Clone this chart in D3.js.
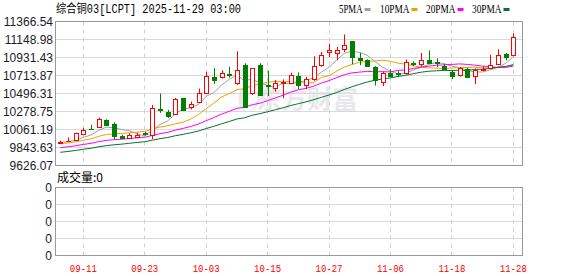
<!DOCTYPE html>
<html><head><meta charset="utf-8">
<script src="https://cdn.jsdelivr.net/npm/d3@7/dist/d3.min.js"></script>
<style>body{margin:0;background:#fff}svg{display:block}</style>
</head><body><svg id="c" width="578" height="276"></svg>
<script>
const dates=["09-08","09-09","09-10","09-11","09-12","09-15","09-16","09-17","09-18","09-19","09-22","09-23","09-24","09-25","09-26","09-29","09-30","10-01","10-02","10-03","10-06","10-07","10-08","10-09","10-10","10-13","10-14","10-15","10-16","10-17","10-20","10-21","10-22","10-23","10-24","10-27","10-28","10-29","10-30","10-31","11-03","11-04","11-05","11-06","11-07","11-10","11-11","11-12","11-13","11-14","11-17","11-18","11-19","11-20","11-21","11-24","11-25","11-26","11-27","11-28"];
const open=[9896,9920,9930,10007,10070,10091,10178,10127,9986,9959,
9974,10016,9992,10307,10274,10247,10436,10328,10398,10506,
10694,10698,10736,10622,10844,10499,10844,10604,10559,10626,
10626,10706,10598,10667,10838,10998,10986,11039,11126,10931,
10907,10820,10640,10746,10746,10739,10862,10847,10907,10880,
10832,10758,10715,10794,10712,10784,10799,10856,10974,10958];
const high=[9926,9966,10022,10082,10118,10206,10184,10146,9998,10016,
10022,10034,10358,10496,10298,10442,10442,10398,10556,10758,
10802,10778,10820,11006,10862,10802,10862,10770,10658,10667,
10748,10751,10698,10946,10998,11099,11058,11210,11126,10986,
10910,10826,10758,10787,10766,10907,10886,10986,11018,10922,
10856,10778,10814,10808,10799,10826,10964,11030,10986,11222];
const low=[9884,9914,9926,9998,10058,10082,10106,9938,9944,9950,
9968,9986,9944,10262,10202,10238,10286,10304,10382,10499,
10610,10676,10688,10598,10328,10478,10466,10466,10518,10439,
10610,10547,10550,10650,10818,10938,10898,10998,10850,10838,
10826,10592,10586,10694,10694,10727,10826,10823,10859,10814,
10784,10670,10700,10688,10610,10772,10790,10847,10898,10946];
const close=[9914,9926,10019,10058,10064,10190,10118,9978,9954,9998,
9992,10004,10319,10292,10220,10427,10298,10370,10502,10712,
10658,10746,10718,10778,10334,10799,10478,10592,10626,10638,
10718,10598,10667,10826,10958,11018,11027,11087,10938,10898,
10830,10658,10739,10703,10734,10880,10854,10898,10868,10862,
10796,10709,10802,10698,10778,10796,10838,10958,10934,11183];
// closes of the 29 sessions before 09-08 (estimated from the moving-average lines)
const priorClose=[9626,9650,9638,9686,9662,9698,9674,9722,9686,9686,
9734,9758,9746,9794,9782,9818,9806,9842,9830,9830,
9854,9878,9866,9890,9890,9890,9914,9902,9908];
const yTickValues=[11366.54,11148.98,10931.43,10713.87,10496.31,10278.75,10061.19,9843.63,9626.07];
const dateTicks=["09-11","09-23","10-03","10-15","10-27","11-06","11-18","11-28"];
const maPeriods=[5,10,20,30];
const maNames=["5PMA","10PMA","20PMA","30PMA"];
const maColors=["#a0a0a0","#f0a000","#ff00ff","#0a7030"];
const volTickLabels=["0","0","0","0","0"];
const titleText="综合铜03[LCPT] 2025-11-29 03:00";
const volTitle="成交量:0";
const watermark="东方财富";

const svg=d3.select("#c");
const L=55.5,R=522.5,T=21.5,B=165.5,VT=187.5,VB=255.5;
const x=d3.scalePoint().domain(dates).range([60.3,513.3]);
const y=d3.scaleLinear().domain([9626.07,11366.54]).range([B,T]);
const yv=d3.scaleLinear().domain([0,volTickLabels.length-1]).range([VT,VB]);
const px=v=>Math.round(v-0.5)+0.5;

// watermark
const wm=svg.append("g").attr("fill","#e8e8ec");
wm.append("path").attr("d","M246,84 C236,92 236,106 246,113 C242,104 242,94 250,86 Z M252,86 C260,94 258,106 250,112 C262,106 264,94 252,86 Z");
wm.append("text").attr("x",256).attr("y",109).attr("font-family","Noto Sans CJK SC").attr("font-weight","bold")
  .attr("font-size",26).attr("textLength",102).attr("lengthAdjust","spacingAndGlyphs").text(watermark);

// grids main
const g=svg.append("g");
yTickValues.slice(1,-1).forEach(v=>{
  g.append("line").attr("x1",L).attr("x2",R).attr("y1",px(y(v))).attr("y2",px(y(v))).attr("stroke","#d9d9d9");
});
dateTicks.forEach(d=>{
  const xx=px(x(d));
  g.append("line").attr("x1",xx).attr("x2",xx).attr("y1",T).attr("y2",B).attr("stroke","#cfcfcf").attr("stroke-dasharray","4,4");
  g.append("line").attr("x1",xx).attr("x2",xx).attr("y1",VT).attr("y2",VB).attr("stroke","#cfcfcf").attr("stroke-dasharray","4,4");
});
volTickLabels.forEach((t,i)=>{
  if(i>0&&i<volTickLabels.length-1)
    g.append("line").attr("x1",L).attr("x2",R).attr("y1",px(yv(i))).attr("y2",px(yv(i))).attr("stroke","#d9d9d9");
});
// frames
svg.append("rect").attr("x",L).attr("y",T).attr("width",R-L).attr("height",B-T).attr("fill","none").attr("stroke","#999");
svg.append("rect").attr("x",L).attr("y",VT).attr("width",R-L).attr("height",VB-VT).attr("fill","none").attr("stroke","#999");

// y labels
yTickValues.forEach(v=>{
  svg.append("text").attr("x",53).attr("y",y(v)).attr("dy","0.36em").attr("text-anchor","end")
    .attr("font-family","Liberation Sans, Arial").attr("font-size",12).attr("fill","#1a1a2a").text(v.toFixed(2));
});
volTickLabels.forEach((t,i)=>{
  svg.append("text").attr("x",52).attr("y",yv(i)).attr("dy","0.36em").attr("text-anchor","end")
    .attr("font-family","Liberation Sans, Arial").attr("font-size",12).attr("fill","#1a1a2a").text(t);
});
// date labels
dateTicks.forEach(d=>{
  svg.append("text").attr("x",x(d)).attr("y",272).attr("text-anchor","middle")
    .attr("font-family","Liberation Mono, monospace").attr("font-size",11).attr("fill","#ff0000")
    .attr("textLength",27).attr("lengthAdjust","spacingAndGlyphs").text(d);
});

// moving averages
const allClose=priorClose.concat(close);
const off=priorClose.length;
maPeriods.forEach((n,k)=>{
  const vals=dates.map((d,i)=>d3.mean(allClose.slice(i+off-n+1,i+off+1)));
  svg.append("path").attr("fill","none").attr("stroke",maColors[k]).attr("stroke-width",1)
    .attr("d",d3.line().x((v,i)=>x(dates[i])).y(v=>y(v))(vals));
});

// candles
const cg=svg.append("g");
dates.forEach((d,i)=>{
  const cx=Math.round(x(d));
  const up=close[i]>=open[i];
  const col=up?"#ff0000":"#008000";
  cg.append("line").attr("x1",cx+0.5).attr("x2",cx+0.5).attr("y1",y(high[i])).attr("y2",y(low[i])).attr("stroke",col);
  const yt=Math.round(y(Math.max(open[i],close[i])))+0.5;
  const yb=Math.round(y(Math.min(open[i],close[i])))+0.5;
  if(yb-yt<1){
    cg.append("line").attr("x1",cx-2).attr("x2",cx+3).attr("y1",yt).attr("y2",yt).attr("stroke",col);
  } else {
    cg.append("rect").attr("x",cx-1.5).attr("y",yt).attr("width",4).attr("height",yb-yt)
      .attr("fill",up?"#fff":col).attr("stroke",col);
  }
});

// title
svg.append("text").attr("x",56).attr("y",13).attr("font-family","Liberation Mono, Noto Sans CJK SC").attr("font-size",12)
  .attr("fill","#000").attr("textLength",185).attr("lengthAdjust","spacingAndGlyphs").text(titleText);
// legend
const legX=[339,380,426,472], legW=[23.5,29.5,29.5,29.5];
maNames.forEach((nm,k)=>{
  svg.append("text").attr("x",legX[k]).attr("y",13).attr("font-family","Liberation Serif, serif").attr("font-size",12)
    .attr("fill","#000").attr("textLength",legW[k]).attr("lengthAdjust","spacingAndGlyphs").text(nm);
  svg.append("rect").attr("x",legX[k]+legW[k]+2).attr("y",8).attr("width",6).attr("height",3).attr("fill",maColors[k]);
});
// volume title
svg.append("text").attr("x",57).attr("y",182).attr("font-family","Noto Sans CJK SC").attr("font-size",12)
  .attr("fill","#000").text(volTitle);
</script></body></html>
